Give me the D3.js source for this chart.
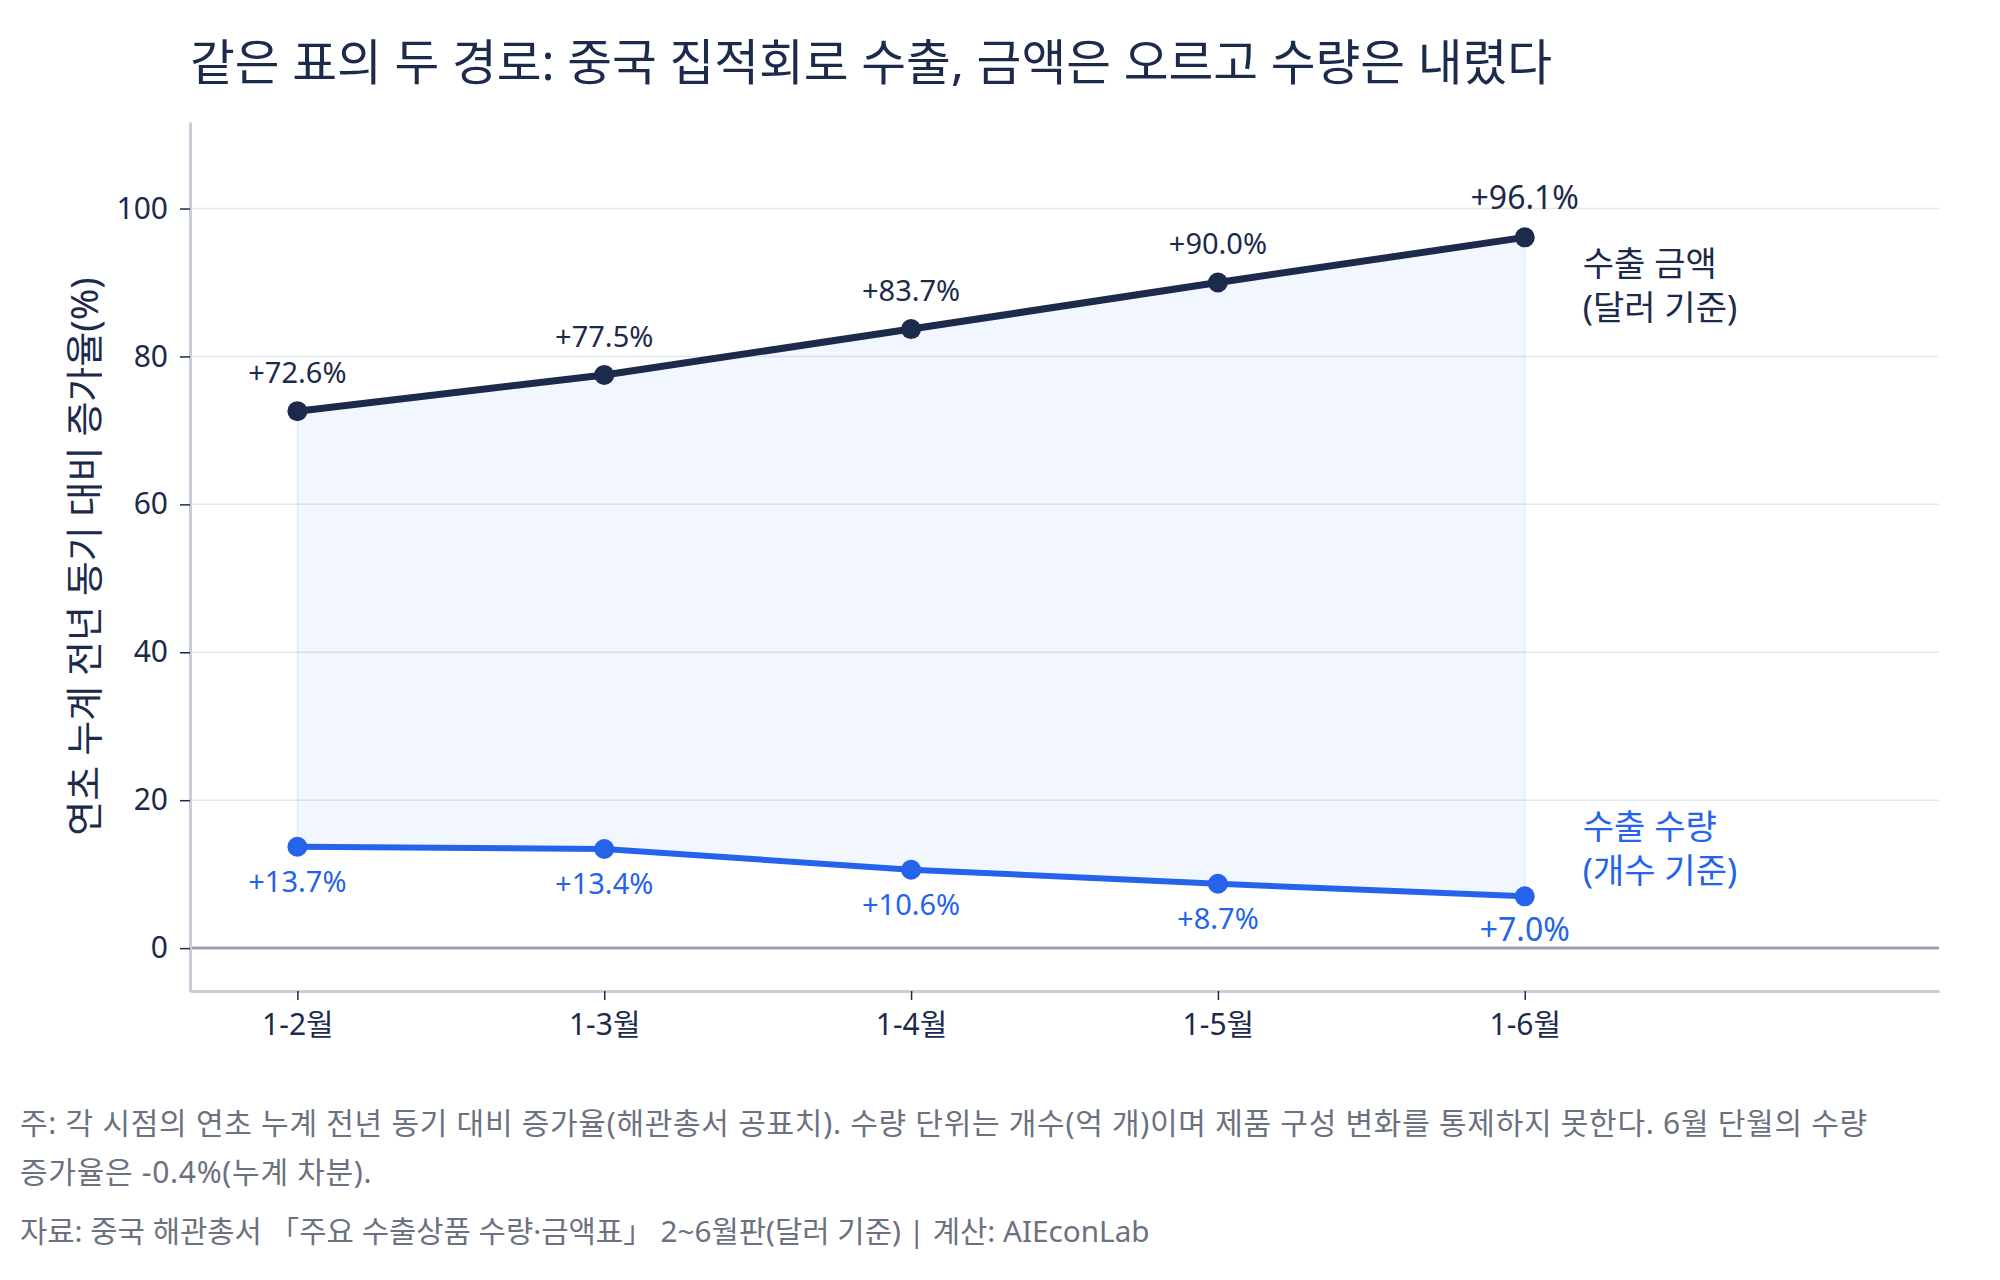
<!DOCTYPE html>
<html lang="ko">
<head>
<meta charset="utf-8">
<script src="https://cdn.jsdelivr.net/npm/d3@7"></script>
<style>
  html, body { margin: 0; padding: 0; background: #fff; }
  svg { display: block; font-family: "Noto Sans", "Noto Sans CJK KR", sans-serif; }
</style>
</head>
<body>
<svg id="chart" width="2000" height="1280"></svg>
<script>
"use strict";

// Periods (cumulative from January)
const periods = ["1-2월", "1-3월", "1-4월", "1-5월", "1-6월"];

// YoY growth, %
const valueGrowth = [72.6, 77.5, 83.7, 90.0, 96.1];
const volumeGrowth = [13.7, 13.4, 10.6, 8.7, 7.0];

const yTicks = [0, 20, 40, 60, 80, 100];

const seriesNames = [["수출 금액", "(달러 기준)"], ["수출 수량", "(개수 기준)"]];

const title = "같은 표의 두 경로: 중국 집적회로 수출, 금액은 오르고 수량은 내렸다";
const yLabel = "연초 누계 전년 동기 대비 증가율(%)";
const notes = [
  "주: 각 시점의 연초 누계 전년 동기 대비 증가율(해관총서 공표치). 수량 단위는 개수(억 개)이며 제품 구성 변화를 통제하지 못한다. 6월 단월의 수량",
  "증가율은 -0.4%(누계 차분).",
  "자료: 중국 해관총서 「주요 수출상품 수량·금액표」 2~6월판(달러 기준) | 계산: AIEconLab"
];

const navy = "#1c2a4c";
const blue = "#2563eb";

const svg = d3.select("#chart");

const plot = {left: 190, right: 1939, top: 122, bottom: 991};

const x = d3.scaleLinear()
    .domain([-0.35, periods.length - 1 + 1.35])
    .range([plot.left, plot.right]);

const y = d3.scaleLinear()
    .domain([-5.8, 111.7])
    .range([plot.bottom, plot.top]);

// Title
svg.append("text")
    .attr("x", 190)
    .attr("y", 80)
    .attr("font-size", 48.7)
    .attr("fill", navy)
    .text(title);

// Grid lines
svg.append("g").selectAll("line")
    .data(yTicks.filter(d => d !== 0))
  .enter().append("line")
    .attr("x1", plot.left)
    .attr("x2", plot.right)
    .attr("y1", d => y(d))
    .attr("y2", d => y(d))
    .attr("stroke", "#e3e7ee")
    .attr("stroke-width", 1.5);

// Shaded gap between the two series
const area = d3.area()
    .x((d, i) => x(i))
    .y0((d, i) => y(volumeGrowth[i]))
    .y1(d => y(d));

svg.append("path")
    .datum(valueGrowth)
    .attr("d", area)
    .attr("fill", blue)
    .attr("fill-opacity", 0.06)
    .attr("stroke", blue)
    .attr("stroke-opacity", 0.07)
    .attr("stroke-width", 2);

// Zero line
svg.append("line")
    .attr("x1", plot.left)
    .attr("x2", plot.right)
    .attr("y1", y(0))
    .attr("y2", y(0))
    .attr("stroke", "#9ba2ae")
    .attr("stroke-width", 3);

// Axes
const yAxis = svg.append("g")
    .attr("transform", "translate(" + plot.left + ",0)")
    .call(d3.axisLeft(y).tickValues(yTicks).tickSize(10).tickSizeOuter(0).tickPadding(12));

const xAxis = svg.append("g")
    .attr("transform", "translate(0," + plot.bottom + ")")
    .call(d3.axisBottom(x).tickValues(d3.range(periods.length))
      .tickFormat(i => periods[i]).tickSize(9).tickSizeOuter(0).tickPadding(14));

[yAxis, xAxis].forEach(g => {
  g.select(".domain").attr("stroke", "#c9cdd7").attr("stroke-width", 3);
  g.selectAll(".tick line").attr("stroke", navy).attr("stroke-width", 1.5);
  g.selectAll(".tick text")
      .attr("fill", navy)
      .attr("font-size", 30)
      .attr("font-family", "\"Noto Sans\", \"Noto Sans CJK KR\", sans-serif");
});

// Y axis title
svg.append("text")
    .attr("transform", "translate(98," + ((plot.top + plot.bottom) / 2) + ") rotate(-90)")
    .attr("text-anchor", "middle")
    .attr("font-size", 38)
    .attr("fill", navy)
    .text(yLabel);

// Lines and points
const line = d3.line()
    .x((d, i) => x(i))
    .y(d => y(d));

const series = [
  {values: valueGrowth, color: navy, width: 7, labelDy: -28},
  {values: volumeGrowth, color: blue, width: 6, labelDy: 45}
];

series.forEach(s => {
  svg.append("path")
      .datum(s.values)
      .attr("d", line)
      .attr("fill", "none")
      .attr("stroke", s.color)
      .attr("stroke-width", s.width)
      .attr("stroke-linejoin", "round");

  svg.append("g").selectAll("circle")
      .data(s.values)
    .enter().append("circle")
      .attr("cx", (d, i) => x(i))
      .attr("cy", d => y(d))
      .attr("r", 10)
      .attr("fill", s.color);

  svg.append("g").selectAll("text")
      .data(s.values)
    .enter().append("text")
      .attr("x", (d, i) => x(i))
      .attr("y", d => y(d) + s.labelDy)
      .attr("text-anchor", "middle")
      .attr("font-size", (d, i) => i === s.values.length - 1 ? 32 : 29)
      .attr("fill", s.color)
      .text(d => "+" + d.toFixed(1) + "%");
});

// Series names at right end
const last = periods.length - 1;
const nameDy = [39, -57];

seriesNames.forEach((lines, k) => {
  const s = series[k];
  svg.append("text")
      .attr("x", x(last) + 58)
      .attr("y", y(s.values[last]) + nameDy[k])
      .attr("font-size", 34)
      .attr("fill", s.color)
    .selectAll("tspan")
      .data(lines)
    .enter().append("tspan")
      .attr("x", x(last) + 58)
      .attr("dy", (d, i) => i === 0 ? 0 : 44)
      .text(d => d);
});

// Notes and source
svg.append("g").selectAll("text")
    .data(notes)
  .enter().append("text")
    .attr("x", 20)
    .attr("y", (d, i) => [1134, 1183, 1242][i])
    .attr("font-size", (d, i) => i < 2 ? 30 : 29.7)
    .attr("letter-spacing", (d, i) => i < 2 ? 0.72 : 0)
    .attr("fill", "#6b7180")
    .text(d => d);
</script>
</body>
</html>
